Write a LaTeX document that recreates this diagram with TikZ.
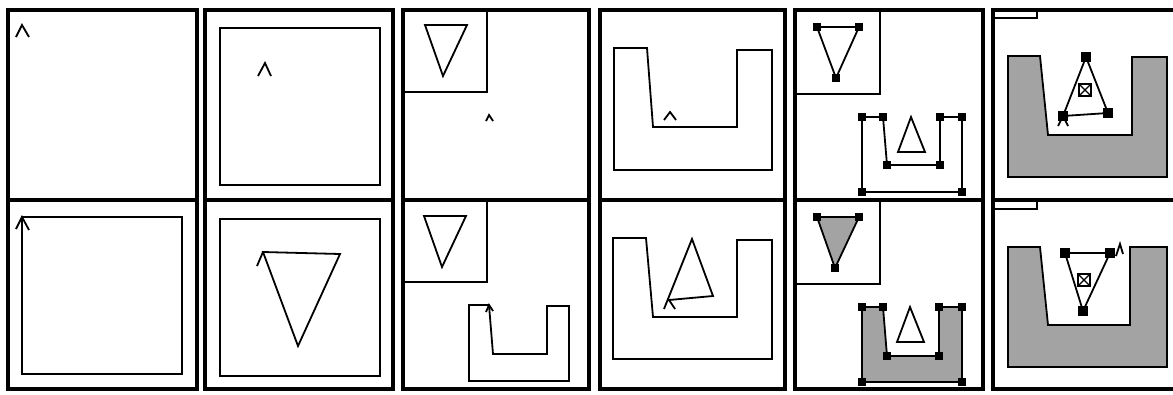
\documentclass[tikz,border=0pt]{standalone}
\usetikzlibrary{positioning}

\begin{document}
\begin{tikzpicture}[
  x=1pt, y=-1pt, % one unit per pixel of the scan
  frame/.style={line width=4pt},
  pen/.style={line width=1.8pt, line join=miter},
  window/.style={line width=1.5pt},
  shaded/.style={pen, fill=black!36},
  handle/.style={rectangle, fill=black, draw=none, minimum size=7.5pt, inner sep=0pt},
  bighandle/.style={handle, minimum size=10pt},
  xbox/.style={rectangle, draw, fill=white, line width=1.2pt, minimum size=12pt, inner sep=0pt},
]
  \useasboundingbox (0,0) rectangle (1173,394);

  % panel frames, one per column
  \draw[frame] (8,10) rectangle (196.5,389) (8,200) -- (196.5,200);
  \draw[frame] (205,10) rectangle (393,389) (205,200) -- (393,200);
  \draw[frame] (402.5,10) rectangle (589,389) (402.5,200) -- (589,200);
  \draw[frame] (599.5,10) rectangle (785,389) (599.5,200) -- (785,200);
  \draw[frame] (795,10) rectangle (982.5,389) (795,200) -- (982.5,200);
  \draw[frame] (1173,10) -- (992.5,10) -- (992.5,389) -- (1173,389)
    (992.5,200) -- (1173,200);

  % column 1
  \draw[pen] (16,37) -- (22,25) -- (29,37);
  \draw[pen] (22,217) rectangle (182,374);
  \draw[pen] (16,229) -- (22,217) -- (29,230);

  % column 2
  \draw[pen] (220,28) rectangle (380,185);
  \draw[pen] (258,76) -- (265,63) -- (271,76);
  \draw[pen] (220,219) rectangle (380,376);
  \draw[pen] (263,252) -- (340,254) -- (298,346) -- cycle;
  \draw[pen] (257,266) -- (263,252);

  % column 3
  \draw[window] (402.5,92) -- (487,92) -- (487,10);
  \draw[pen] (425,25) -- (467,25) -- (443,76) -- cycle;
  \draw[pen] (486,121) -- (489,115) -- (493,121);
  \draw[window] (402.5,282) -- (487,282) -- (487,200);
  \draw[pen] (424,216) -- (466,216) -- (442,267) -- cycle;
  \draw[pen] (489,305) -- (469,305) -- (469,381) -- (569,381) -- (569,306)
    -- (547,306) -- (547,354) -- (493,354) -- (489,305);
  \draw[pen] (486,312) -- (489,305) -- (493,311);

  % column 4
  \draw[pen] (614,48) -- (647,48) -- (653,127) -- (737,127) -- (737,50)
    -- (772,50) -- (772,170) -- (614,170) -- cycle;
  \draw[pen] (664,120) -- (670,112) -- (676,120);
  \draw[pen] (613,238) -- (646,238) -- (653,317) -- (737,317) -- (737,240)
    -- (772,240) -- (772,359) -- (613,359) -- cycle;
  \draw[pen] (664,309) -- (692,239) -- (713,296) -- (669,300) -- (675,309);

  % column 5
  \draw[window] (795,94) -- (880,94) -- (880,10);
  \draw[pen] (817,27) -- (859,27) -- (836,78) -- cycle;
  \foreach \p [count=\i] in {(817,27),(859,27),(836,78)}
    \node[handle] (tri5a-\i) at \p {};
  \draw[pen] (862,117) -- (883,117) -- (887,165) -- (940,165) -- (940,117)
    -- (962,117) -- (962,192) -- (862,192) -- cycle;
  \foreach \p [count=\i] in {(862,117),(883,117),(887,165),(940,165),
      (940,117),(962,117),(962,192),(862,192)}
    \node[handle] (u5a-\i) at \p {};
  \draw[pen] (911,117) -- (925,152) -- (898,152) -- cycle;

  \draw[window] (795,284) -- (880,284) -- (880,200);
  \draw[shaded] (817,217) -- (859,217) -- (835,268) -- cycle;
  \foreach \p [count=\i] in {(817,217),(859,217),(835,268)}
    \node[handle] (tri5b-\i) at \p {};
  \draw[shaded] (862,307) -- (883,307) -- (887,356) -- (939,356) -- (939,307)
    -- (962,307) -- (962,382) -- (862,382) -- cycle;
  \foreach \p [count=\i] in {(862,307),(883,307),(887,356),(939,356),
      (939,307),(962,307),(962,382),(862,382)}
    \node[handle] (u5b-\i) at \p {};
  \draw[pen] (910,307) -- (924,342) -- (897,342) -- cycle;

  % column 6
  \draw[window] (992.5,18) -- (1037,18) -- (1037,10);
  \draw[shaded] (1008,56) -- (1040,56) -- (1048,135) -- (1132,135) -- (1132,57)
    -- (1167,57) -- (1167,177) -- (1008,177) -- cycle;
  \draw[pen] (1058,126) -- (1063,116) -- (1068,126);
  \draw[pen] (1086,57) -- (1063,116) -- (1108,113) -- cycle;
  \foreach \p [count=\i] in {(1086,57),(1063,116),(1108,113)}
    \node[bighandle] (tri6a-\i) at \p {};
  \node[xbox] (mid6a) at (1085,90) {};
  \draw[line width=1.2pt] (mid6a.north west) -- (mid6a.south east)
    (mid6a.north east) -- (mid6a.south west);

  \draw[window] (992.5,209) -- (1037,209) -- (1037,200);
  \draw[shaded] (1008,247) -- (1040,247) -- (1048,325) -- (1130,325) -- (1130,247)
    -- (1167,247) -- (1167,367) -- (1008,367) -- cycle;
  \draw[pen] (1065,253) -- (1110,253) -- (1083,311) -- cycle;
  \foreach \p [count=\i] in {(1065,253),(1110,253),(1083,311)}
    \node[bighandle] (tri6b-\i) at \p {};
  \node[xbox] (mid6b) at (1084,280) {};
  \draw[line width=1.2pt] (mid6b.north west) -- (mid6b.south east)
    (mid6b.north east) -- (mid6b.south west);
  \draw[pen] (1116,256) -- (1120,244) -- (1123,254);

\end{tikzpicture}
\end{document}
